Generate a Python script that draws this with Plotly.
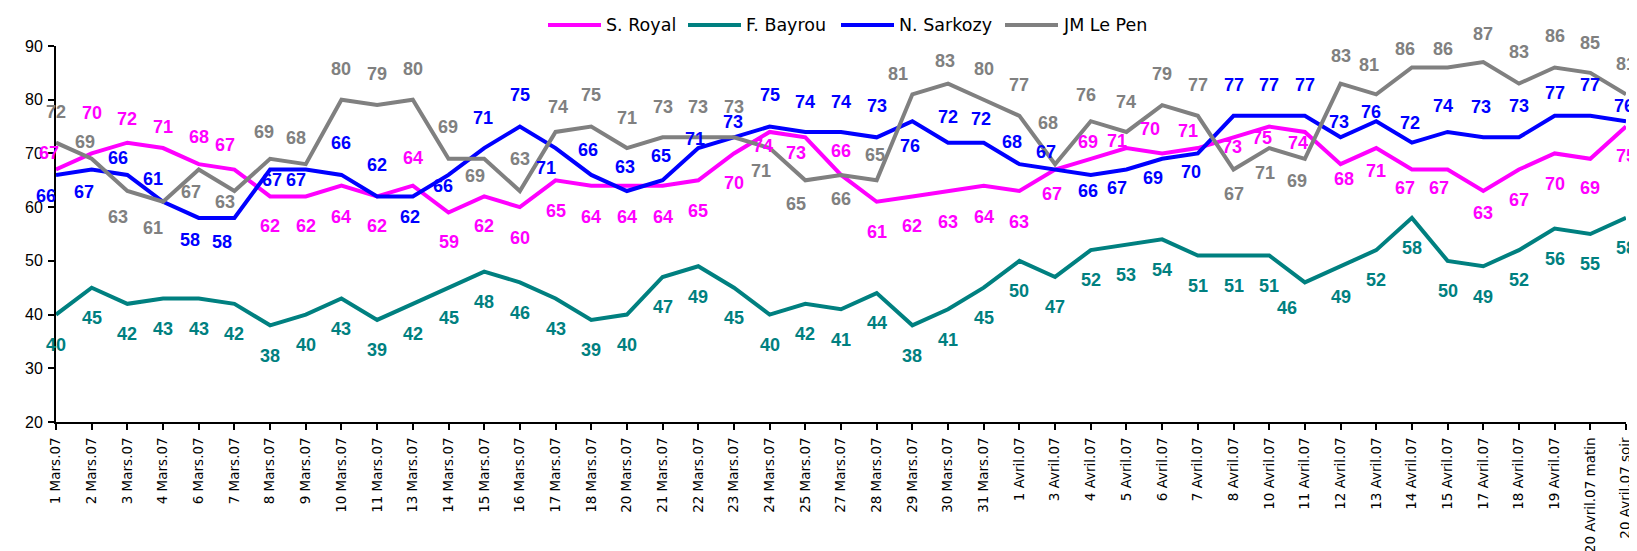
import plotly.graph_objects as go

categories = [
    "1 Mars.07", "2 Mars.07", "3 Mars.07", "4 Mars.07", "6 Mars.07", "7 Mars.07",
    "8 Mars.07", "9 Mars.07", "10 Mars.07", "11 Mars.07", "13 Mars.07", "14 Mars.07",
    "15 Mars.07", "16 Mars.07", "17 Mars.07", "18 Mars.07", "20 Mars.07", "21 Mars.07",
    "22 Mars.07", "23 Mars.07", "24 Mars.07", "25 Mars.07", "27 Mars.07", "28 Mars.07",
    "29 Mars.07", "30 Mars.07", "31 Mars.07",
    "1 Avril.07", "3 Avril.07", "4 Avril.07", "5 Avril.07", "6 Avril.07", "7 Avril.07",
    "8 Avril.07", "10 Avril.07", "11 Avril.07", "12 Avril.07", "13 Avril.07", "14 Avril.07",
    "15 Avril.07", "17 Avril.07", "18 Avril.07", "19 Avril.07", "20 Avril.07 matin",
    "20 Avril.07 soir",
]

royal = [67, 70, 72, 71, 68, 67, 62, 62, 64, 62, 64, 59, 62, 60, 65, 64, 64, 64, 65, 70,
         74, 73, 66, 61, 62, 63, 64,
         63, 67, 69, 71, 70, 71, 73, 75, 74, 68, 71, 67, 67, 63, 67, 70, 69, 75]
bayrou = [40, 45, 42, 43, 43, 42, 38, 40, 43, 39, 42, 45, 48, 46, 43, 39, 40, 47, 49, 45,
          40, 42, 41, 44, 38, 41, 45,
          50, 47, 52, 53, 54, 51, 51, 51, 46, 49, 52, 58, 50, 49, 52, 56, 55, 58]
sarkozy = [66, 67, 66, 61, 58, 58, 67, 67, 66, 62, 62, 66, 71, 75, 71, 66, 63, 65, 71, 73,
           75, 74, 74, 73, 76, 72, 72,
           68, 67, 66, 67, 69, 70, 77, 77, 77, 73, 76, 72, 74, 73, 73, 77, 77, 76]
lepen = [72, 69, 63, 61, 67, 63, 69, 68, 80, 79, 80, 69, 69, 63, 74, 75, 71, 73, 73, 73,
         71, 65, 66, 65, 81, 83, 80,
         77, 68, 76, 74, 79, 77, 67, 71, 69, 83, 81, 86, 86, 87, 83, 86, 85, 81]

names = ["S. Royal", "F. Bayrou", "N. Sarkozy", "JM Le Pen"]
colors = ["#FF00FF", "#008080", "#0000FF", "#808080"]

# label offsets (vertical in axis units, horizontal in px)
royal_dy = [3, 7.6, 4.5, 4, 5, 4.6, -5.6, -5.6, -5.9, -5.6, 5.1, -5.5, -5.6, -5.7, -5.7,
            -5.9, -5.9, -5.9, -5.7, -5.5, -2.6, -3, 4.4, -5.7, -5.6, -5.7, -5.9,
            -5.7, -4.5, 3.1, 1.3, 4.5, 3.2, -1.8, -2.1, -2, -2.8, -4.2, -3.4, -3.4, -4,
            -5.6, -5.6, -5.4, -5.5]
royal_dx = [-7, 0, 0, 0, 0, -9, 0, 0, 0, 0, 0, 0, 0, 0, 0, 0, 0, 0, 0, 0, -7, -9, 0, 0, 0, 0, 0,
            0, -3, -3, -9, -12, -10, -2, -7, -7, 3, 0, -7, -9, 0, 0, 0, 0, 0]
bayrou_dy = [-5.65] * 35 + [-4.8] + [-5.65] * 9
bayrou_dx = [0] * 35 + [-18] + [0] * 9
sarkozy_dy = [-4, -4.2, 3.1, 4.3, -4.2, -4.5, -2, -2, 6, 5.8, -3.9, -2.1, 5.6, 5.9, -3.7,
              4.7, 4.5, 4.5, 1.6, 2.8, 5.8, 5.6, 5.6, 5.9, -4.6, 4.8, 4.5,
              4.1, 3.3, -3, -3.4, -3.5, -3.5, 5.7, 5.7, 5.7, 2.8, 1.7, 3.6, 4.8, 5.7,
              5.9, 4.3, 5.7, 2.8]
sarkozy_dx = [-10, -8, -9, -10, -9, -12, 2, -10, 0, 0, -3, -6, -1, 0, -10,
              -3, -2, -2, -3, -1, 0, 0, 0, 0, -2, 0, -3,
              -7, -9, -3, -9, -9, -7, 0, 0, 0, -2, -5, -2, -5, -2, 0, 0, 0, -2]
lepen_dy = [5.8, 3.1, -4.9, -4.9, -4.2, -2.1, 5, 4.8, 5.7, 5.7, 5.7, 6, -3.2, 5.9, 4.7,
            5.8, 5.6, 5.7, 5.7, 5.7, -4.3, -4.4, -4.4, 4.8, 3.7, 4.2, 5.8,
            5.7, 7.7, 4.9, 5.6, 5.7, 5.7, -4.5, -4.7, -4.2, 5.1, 5.4, 3.4, 3.4, 5.3,
            5.8, 5.8, 5.6, 5.6]
lepen_dx = [0, -7, -9, -10, -8, -9, -6, -10, 0, 0, 0, -1, -9, 0, 2,
            0, 0, 0, 0, 0, -9, -9, 0, -2, -14, -3, 0,
            0, -7, -5, 0, 0, 0, 0, -4, -8, 0, -7, -7, -5, 0, 0, 0, 0, 0]

series = [royal, bayrou, sarkozy, lepen]
dys = [royal_dy, bayrou_dy, sarkozy_dy, lepen_dy]
dxs = [royal_dx, bayrou_dx, sarkozy_dx, lepen_dx]

W, H = 1637, 551
ML, MR, MT, MB = 48, 19, 38, 137
YMIN, YMAX = 20, 90
PW, PH = W - ML - MR, H - MT - MB
px_per_unit = PH / (YMAX - YMIN)

# legend layout (pixel positions of the line samples, and vertical centre)
legend_line_x = [540, 680, 833, 997]
legend_line_len = 53
legend_y = 17


def xpaper(px):
    return (px - ML) / PW


def ypaper(py):
    return (H - MB - py) / PH


fig = go.Figure()
annotations = []
shapes = []
for name, col, vals, dy, dx in zip(names, colors, series, dys, dxs):
    fig.add_trace(go.Scatter(x=categories, y=vals, mode="lines", name=name,
                             line=dict(color=col, width=4), cliponaxis=False,
                             showlegend=False))
    for c, v, a, b in zip(categories, vals, dy, dx):
        annotations.append(dict(x=c, y=v, text=str(v), showarrow=False,
                                yshift=a * px_per_unit, xshift=b,
                                font=dict(family="Liberation Sans, Arial", size=18,
                                          color=col, weight="bold")))

for name, col, lx in zip(names, colors, legend_line_x):
    shapes.append(dict(type="line", xref="paper", yref="paper",
                       x0=xpaper(lx), x1=xpaper(lx + legend_line_len),
                       y0=ypaper(legend_y), y1=ypaper(legend_y),
                       line=dict(color=col, width=4)))
    annotations.append(dict(xref="paper", yref="paper",
                            x=xpaper(lx + legend_line_len + 3), y=ypaper(legend_y),
                            xanchor="left", yanchor="middle", text=name, showarrow=False,
                            font=dict(family="DejaVu Sans", size=17.5, color="black")))

fig.update_layout(
    width=W, height=H,
    margin=dict(l=ML, r=MR, t=MT, b=MB, autoexpand=False),
    paper_bgcolor="white", plot_bgcolor="white",
    showlegend=False,
    annotations=annotations,
    shapes=shapes,
    xaxis=dict(type="category", categoryorder="array", categoryarray=categories,
               range=[0, len(categories) - 1], showline=True, linecolor="black",
               linewidth=2, ticks="outside", ticklen=6, tickwidth=1.5, tickcolor="black",
               tickangle=-90, showgrid=False, zeroline=False, automargin=False,
               ticklabelstandoff=2,
               tickfont=dict(family="DejaVu Sans", size=13.5, color="black")),
    yaxis=dict(range=[YMIN, YMAX], dtick=10, showline=True, linecolor="black",
               linewidth=2, ticks="outside", ticklen=6, tickwidth=1.5, tickcolor="black",
               showgrid=False, zeroline=False, automargin=False, ticklabelstandoff=2,
               tickfont=dict(family="Liberation Sans, Arial", size=16, color="black")),
)

fig.write_html("out.html")
